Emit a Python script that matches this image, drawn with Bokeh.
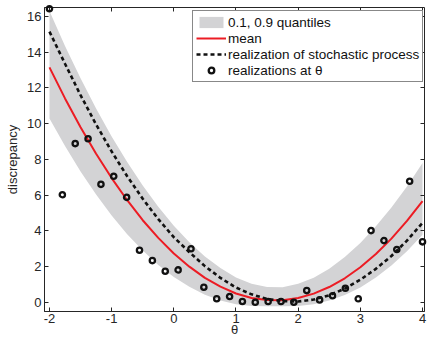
from bokeh.plotting import figure
from bokeh.models import Range1d, LinearAxis, FixedTicker, Legend, LegendItem, CustomJSTickFormatter
from bokeh.embed import file_html
from bokeh.resources import INLINE

# ---- data ----
theta_grid = [-2.0, -1.75, -1.5, -1.25, -1.0, -0.75, -0.5, -0.25, 0.0, 0.25, 0.5, 0.75,
              1.0, 1.25, 1.5, 1.75, 2.0, 2.25, 2.5, 2.75, 3.0, 3.25, 3.5, 3.75, 4.0]
mean_vals = [13.15, 11.41, 9.80, 8.31, 6.95, 5.71, 4.59, 3.60, 2.73, 1.99, 1.36, 0.87,
             0.49, 0.24, 0.12, 0.11, 0.24, 0.48, 0.85, 1.34, 1.96, 2.70, 3.56, 4.55, 5.66]
q90_vals = [16.30, 14.35, 12.54, 10.85, 9.28, 7.85, 6.53, 5.34, 4.28, 3.36, 2.56, 1.91,
            1.39, 1.03, 0.85, 0.84, 1.03, 1.37, 1.88, 2.53, 3.32, 4.25, 5.30, 6.48, 7.79]
q10_vals = [10.29, 8.74, 7.32, 6.03, 4.86, 3.81, 2.89, 2.09, 1.41, 0.86, 0.42, 0.10,
            -0.11, -0.21, -0.23, -0.23, -0.21, -0.11, 0.09, 0.40, 0.83, 1.39, 2.06, 2.86, 3.77]
realization_vals = [15.15, 13.35, 11.59, 9.95, 8.44, 7.05, 5.79, 4.65, 3.64, 2.80, 2.02, 1.36,
                    0.82, 0.44, 0.18, 0.06, 0.04, 0.15, 0.39, 0.76, 1.26, 1.87, 2.59, 3.45, 4.44]
theta_pts = [-2.0, -1.793, -1.586, -1.379, -1.172, -0.966, -0.759, -0.552, -0.345, -0.138,
             0.069, 0.276, 0.483, 0.690, 0.897, 1.103, 1.310, 1.517, 1.724, 1.931,
             2.138, 2.345, 2.552, 2.759, 2.966, 3.172, 3.379, 3.586, 3.793, 4.0]
discrepancy_pts = [16.43, 6.02, 8.88, 9.15, 6.60, 7.05, 5.87, 2.91, 2.33, 1.73,
                   1.81, 2.99, 0.84, 0.19, 0.32, 0.04, 0.00, 0.04, 0.04, 0.00,
                   0.65, 0.13, 0.36, 0.78, 0.19, 4.01, 3.45, 2.95, 6.77, 3.38]
x_ticks = [-2, -1, 0, 1, 2, 3, 4]
y_ticks = [0, 2, 4, 6, 8, 10, 12, 14, 16]

FONT = "Liberation Sans"
AX = "#262626"

p = figure(width=427, height=339, x_range=Range1d(-2.08, 4.032), y_range=Range1d(-0.52, 16.50),
           output_backend="svg", toolbar_location=None,
           min_border_left=44, min_border_right=3, min_border_top=7, min_border_bottom=28,
           x_axis_label="θ", y_axis_label="discrepancy")
p.grid.visible = False
p.outline_line_color = AX
p.outline_line_width = 1
p.background_fill_color = "white"
p.border_fill_color = "white"

plain = CustomJSTickFormatter(code="return tick.toString()")
for ax in (p.xaxis[0], p.yaxis[0]):
    ax.major_tick_in = 4
    ax.major_tick_out = 0
    ax.minor_tick_line_color = None
    ax.axis_line_color = AX
    ax.major_tick_line_color = AX
    ax.major_label_text_font = FONT
    ax.major_label_text_font_size = "13px"
    ax.major_label_text_color = AX
    ax.axis_label_text_font = FONT
    ax.axis_label_text_font_size = "13px"
    ax.axis_label_text_font_style = "normal"
    ax.axis_label_text_color = AX
    ax.formatter = plain
p.xaxis[0].ticker = FixedTicker(ticks=x_ticks)
p.yaxis[0].ticker = FixedTicker(ticks=y_ticks)
p.xaxis[0].major_label_standoff = 2
p.xaxis[0].axis_label_standoff = -4
p.yaxis[0].major_label_standoff = 3
p.yaxis[0].axis_label_standoff = 4

blank = CustomJSTickFormatter(code="return ''")
top_ax = LinearAxis(ticker=FixedTicker(ticks=x_ticks), formatter=blank, major_label_text_font_size="1px",
                    major_label_standoff=0, major_tick_in=4, major_tick_out=0,
                    minor_tick_line_color=None, axis_line_color=None, major_tick_line_color=AX)
right_ax = LinearAxis(ticker=FixedTicker(ticks=y_ticks), formatter=blank, major_label_text_font_size="1px",
                      major_label_standoff=0, major_tick_in=4, major_tick_out=0,
                      minor_tick_line_color=None, axis_line_color=None, major_tick_line_color=AX)
p.add_layout(top_ax, "above")
p.add_layout(right_ax, "right")

band = p.varea(x=theta_grid, y1=q10_vals, y2=q90_vals, fill_color="#d3d3d5", fill_alpha=1.0)
mean_r = p.line(theta_grid, mean_vals, line_color="#ec1c24", line_width=2)
real_r = p.line(theta_grid, realization_vals, line_color="#111111", line_width=2.6, line_dash="4 3")
pts_r = p.scatter(theta_pts, discrepancy_pts, marker="circle", size=5.3, fill_color=None,
                  line_color="#111111", line_width=2.3, level="overlay")

legend = Legend(items=[
    LegendItem(label="0.1, 0.9 quantiles", renderers=[band]),
    LegendItem(label="mean", renderers=[mean_r]),
    LegendItem(label="realization of stochastic process", renderers=[real_r]),
    LegendItem(label="realizations at θ", renderers=[pts_r]),
], location=(148, 229))
legend.label_text_font = FONT
legend.label_text_font_size = "13.5px"
legend.label_text_color = "#111111"
legend.label_height = 16
legend.glyph_height = 14
legend.glyph_width = 30
legend.label_standoff = 2
legend.padding = 3
legend.spacing = 0
legend.margin = 0
legend.border_line_color = "#111111"
legend.border_line_width = 1
legend.background_fill_color = "white"
legend.background_fill_alpha = 1.0
p.add_layout(legend)

open("out.html", "w").write(file_html(p, INLINE))
